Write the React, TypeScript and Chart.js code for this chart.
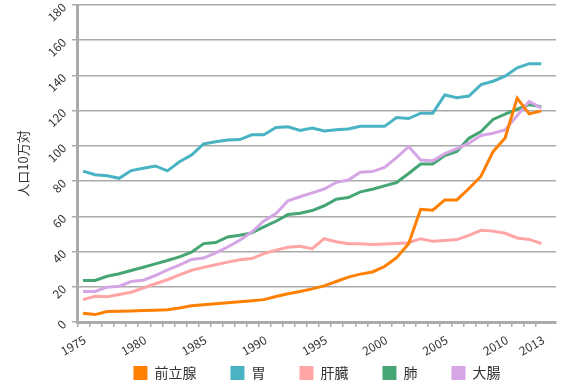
import React, { useEffect, useRef } from 'react';
import { Chart, registerables } from 'chart.js';

Chart.register(...registerables);

const years = [
  1975, 1976, 1977, 1978, 1979, 1980, 1981, 1982, 1983, 1984,
  1985, 1986, 1987, 1988, 1989, 1990, 1991, 1992, 1993, 1994,
  1995, 1996, 1997, 1998, 1999, 2000, 2001, 2002, 2003, 2004,
  2005, 2006, 2007, 2008, 2009, 2010, 2011, 2012, 2013,
];

const prostate = [
  5.0, 4.2, 5.9, 6.1, 6.3, 6.5, 6.7, 7.0, 8.0, 9.2,
  9.8, 10.3, 10.9, 11.5, 12.0, 12.7, 14.5, 16.0, 17.3, 18.8,
  20.5, 23.0, 25.5, 27.2, 28.4, 31.5, 36.5, 44.5, 64.0, 63.5,
  69.3, 69.3, 75.8, 82.8, 96.7, 104.5, 127.1, 118.2, 119.9,
];

const stomach = [
  85.7, 83.6, 83.0, 81.6, 86.0, 87.3, 88.6, 85.8, 91.0, 94.8,
  101.1, 102.4, 103.4, 103.6, 106.3, 106.3, 110.4, 110.9, 108.8, 110.2,
  108.5, 109.1, 109.6, 111.1, 111.1, 111.1, 116.1, 115.5, 118.6, 118.6,
  128.9, 127.3, 128.3, 134.8, 136.7, 139.6, 144.3, 146.7, 146.7,
];

const liver = [
  12.7, 14.6, 14.4, 15.6, 16.9, 19.3, 21.7, 24.0, 26.8, 29.4,
  31.0, 32.5, 34.0, 35.3, 36.0, 38.8, 40.8, 42.4, 43.0, 41.6,
  47.3, 45.6, 44.5, 44.5, 44.0, 44.3, 44.6, 45.0, 47.3, 45.8,
  46.3, 46.8, 49.2, 52.1, 51.6, 50.4, 47.7, 46.9, 44.6,
];

const lung = [
  23.6, 23.6, 26.0, 27.4, 29.2, 31.1, 33.0, 34.9, 37.0, 39.6,
  44.5, 45.1, 48.3, 49.3, 50.6, 54.0, 57.2, 61.0, 61.8, 63.3,
  66.0, 69.7, 70.7, 73.9, 75.4, 77.3, 79.2, 84.3, 89.7, 89.7,
  94.5, 96.9, 104.3, 108.1, 115.0, 118.0, 120.8, 123.5, 122.2,
];

const colorectal = [
  17.3, 17.3, 19.8, 20.3, 23.0, 23.7, 26.4, 29.6, 32.3, 35.5,
  36.3, 39.2, 42.6, 46.4, 51.1, 57.4, 61.6, 68.8, 71.1, 73.3,
  75.5, 79.3, 80.6, 85.0, 85.4, 87.8, 93.3, 99.6, 92.0, 91.5,
  95.6, 98.5, 101.5, 105.9, 107.2, 109.1, 117.2, 125.2, 121.5,
];

const seriesNames = ['前立腺', '胃', '肝臓', '肺', '大腸'];
const seriesValues = [prostate, stomach, liver, lung, colorectal];
const seriesColors = ['#ff8000', '#4ab3c3', '#ffa5a5', '#45a674', '#d5a5e5'];
const seriesOrder = [0, 2, 3, 4, 1];

const xTickLabels = [1975, 1980, 1985, 1990, 1995, 2000, 2005, 2010, 2013];
const yMin = 0;
const yMax = 180;
const yStep = 20;

const xMin = 1974.58;
const xMax = 2014.22;
const LABEL_SHIFT = 0.75;

const FONT = "'Noto Sans CJK JP', 'Noto Sans', sans-serif";
const TEXT = '#333333';
const GRID = '#aaaaaa';

export default function App() {
  const canvasRef = useRef<HTMLCanvasElement | null>(null);

  useEffect(() => {
    if (!canvasRef.current) return;
    Chart.defaults.font.family = FONT;
    const datasets = seriesNames.map((name, s) => ({
      label: name,
      data: years.map((yr, i) => ({ x: yr, y: seriesValues[s][i] })),
      borderColor: seriesColors[s],
      backgroundColor: seriesColors[s],
      borderWidth: 3,
      pointRadius: 0,
      pointHoverRadius: 0,
      fill: false,
      tension: 0,
      order: seriesOrder[s],
    }));

    const chart = new Chart(canvasRef.current, {
      type: 'line',
      data: { datasets },
      options: {
        animation: false,
        responsive: true,
        maintainAspectRatio: false,
        layout: { padding: { top: 0, right: 14, left: 15, bottom: -10 } },
        plugins: {
          tooltip: { enabled: false },
          legend: {
            position: 'bottom',
            fullSize: false,
            labels: {
              boxWidth: 14,
              boxHeight: 14,
              padding: 34,
              color: TEXT,
              font: { size: 14, family: FONT },
              generateLabels: (c: any) =>
                Chart.defaults.plugins.legend.labels
                  .generateLabels(c)
                  .map((l: any) => ({ ...l, lineWidth: 0 }))
                  .sort((a: any, b: any) => a.datasetIndex - b.datasetIndex),
            },
          },
        },
        scales: {
          x: {
            type: 'linear',
            position: 'bottom',
            min: xMin,
            max: xMax,
            afterBuildTicks: (axis: any) => {
              axis.ticks = years.map((yr) => ({ value: yr - 0.42 }));
            },
            afterFit: (axis: any) => {
              axis.height = 10;
            },
            ticks: { display: false },
            grid: {
              drawOnChartArea: false,
              drawTicks: true,
              tickLength: 5,
              color: GRID,
              lineWidth: 1.5,
            },
            border: { color: GRID, width: 3 },
          },
          xl: {
            type: 'linear',
            position: 'bottom',
            min: xMin,
            max: xMax,
            afterBuildTicks: (axis: any) => {
              axis.ticks = xTickLabels.map((v) => ({ value: v + LABEL_SHIFT }));
            },
            afterFit: (axis: any) => {
              axis.height = 0;
            },
            ticks: {
              autoSkip: false,
              mirror: true,
              minRotation: 30,
              maxRotation: 30,
              padding: -13,
              color: TEXT,
              font: { size: 12, family: FONT },
              callback: (v: any) => String(Math.round(Number(v) - LABEL_SHIFT)),
            },
            grid: { display: false },
            border: { display: false },
          },
          y: {
            type: 'linear',
            min: yMin,
            max: yMax,
            afterFit: (axis: any) => {
              axis.paddingTop = 5;
              axis.paddingBottom = 0;
            },
            ticks: {
              stepSize: yStep,
              minRotation: 45,
              maxRotation: 45,
              padding: 8,
              color: TEXT,
              font: { size: 12, family: FONT },
            },
            grid: { color: GRID, lineWidth: 1.5, tickLength: 6 },
            border: { color: GRID, width: 3 },
            title: {
              display: true,
              text: '人口10万対',
              color: TEXT,
              font: { size: 13, family: FONT },
              padding: { top: 0, bottom: 1 },
            },
          },
        },
      },
    });
    return () => chart.destroy();
  }, []);

  return (
    <div style={{ position: 'fixed', left: 0, top: 0, width: 570, height: 380 }}>
      <canvas ref={canvasRef} />
    </div>
  );
}
